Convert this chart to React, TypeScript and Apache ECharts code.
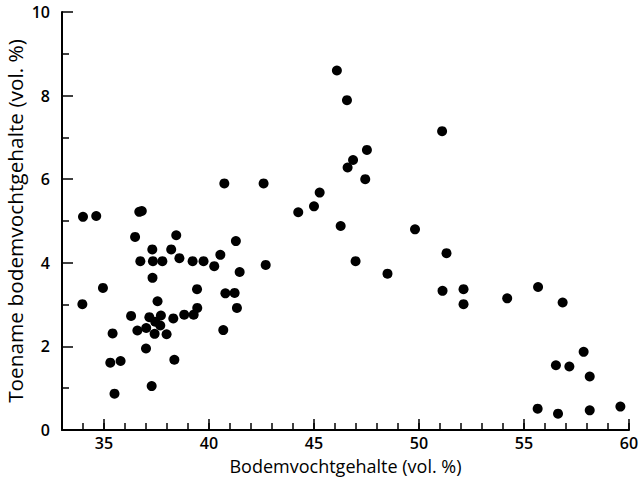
import React, { useEffect, useRef } from "react";
import * as echarts from "echarts";

const xValues: number[] = [
  34.0, 34.63, 36.68, 36.8, 36.48, 38.44, 37.3, 38.2, 36.73, 37.33, 37.78, 38.59,
  39.22, 39.74, 40.25, 40.54, 41.28, 41.46, 42.7, 40.73, 42.6, 37.31, 34.95, 33.97,
  39.43, 37.55, 40.78, 41.22, 41.33, 39.44, 39.27, 38.82, 38.3, 37.71, 37.16, 36.29,
  37.44, 37.68, 37.01, 36.59, 37.41, 37.98, 35.41, 40.68, 37.0, 35.3, 35.79, 38.35,
  37.27, 35.5,
  46.09, 46.57, 51.1, 47.52, 46.86, 46.6, 47.44, 45.27, 45.0, 44.25, 46.27, 49.81,
  51.31, 46.98, 48.5, 51.12, 52.12, 52.12, 54.2, 55.67, 56.84, 57.84, 56.52, 57.16,
  58.13, 55.65, 56.62, 58.13, 59.59,
];
const yValues: number[] = [
  5.1, 5.12, 5.22, 5.24, 4.62, 4.66, 4.32, 4.32, 4.04, 4.04, 4.04, 4.11,
  4.04, 4.04, 3.92, 4.19, 4.52, 3.78, 3.95, 5.9, 5.9, 3.64, 3.4, 3.01,
  3.37, 3.08, 3.27, 3.28, 2.92, 2.92, 2.76, 2.76, 2.67, 2.74, 2.7, 2.73,
  2.59, 2.5, 2.44, 2.38, 2.3, 2.29, 2.31, 2.39, 1.95, 1.61, 1.65, 1.68,
  1.05, 0.87,
  8.6, 7.89, 7.15, 6.7, 6.46, 6.28, 6.0, 5.68, 5.35, 5.21, 4.88, 4.8,
  4.23, 4.04, 3.74, 3.33, 3.37, 3.01, 3.15, 3.42, 3.05, 1.87, 1.55, 1.52,
  1.28, 0.51, 0.39, 0.47, 0.56,
];
const xMajorTicks: number[] = [35, 40, 45, 50, 55, 60];
const xTitle = "Bodemvochtgehalte (vol. %)";
const yTitle = "Toename bodemvochtgehalte (vol. %)";

const FONT = "'Open Sans', 'DejaVu Sans', sans-serif";

export default function App() {
  const ref = useRef<HTMLDivElement>(null);
  useEffect(() => {
    document.body.style.margin = "0";
    if (!ref.current) return;
    const chart = echarts.init(ref.current, null, { renderer: "svg" });
    const points = xValues.map((x, i) => [x, yValues[i]]);
    chart.setOption({
      animation: false,
      backgroundColor: "#ffffff",
      grid: {
        left: 62,
        right: 13,
        top: 12,
        bottom: 60,
        containLabel: false,
        outerBoundsMode: "none",
      },
      xAxis: [
        {
          type: "value",
          min: 33,
          max: 60,
          interval: 1,
          position: "bottom",
          axisLine: { show: true, onZero: false, lineStyle: { color: "#000", width: 2 } },
          axisTick: { show: true, inside: true, length: 7, lineStyle: { color: "#000", width: 1.5 } },
          axisLabel: { show: false },
          splitLine: { show: false },
        },
        {
          type: "value",
          min: 33,
          max: 60,
          position: "bottom",
          name: xTitle,
          nameLocation: "middle",
          nameGap: 27,
          nameMoveOverlap: false,
          nameTextStyle: { fontFamily: FONT, fontSize: 18, fontWeight: 500, color: "#000" },
          axisLine: { show: false },
          axisTick: {
            show: true,
            inside: true,
            length: 11,
            customValues: xMajorTicks,
            lineStyle: { color: "#000", width: 1.5 },
          },
          axisLabel: {
            show: true,
            customValues: xMajorTicks,
            margin: 5,
            fontFamily: FONT,
            fontSize: 16,
            fontWeight: 600,
            color: "#000",
          },
          splitLine: { show: false },
        },
      ],
      yAxis: {
        type: "value",
        min: 0,
        max: 10,
        interval: 2,
        name: yTitle,
        nameLocation: "middle",
        nameGap: 37,
        nameMoveOverlap: false,
        nameTextStyle: { fontFamily: FONT, fontSize: 20.8, fontWeight: 500, color: "#000" },
        axisLine: { show: true, onZero: false, lineStyle: { color: "#000", width: 2 } },
        axisTick: { show: true, inside: true, length: 11, lineStyle: { color: "#000", width: 1.5 } },
        minorTick: { show: true, splitNumber: 2, length: 7, lineStyle: { color: "#000", width: 1.5 } },
        axisLabel: { margin: 12, fontFamily: FONT, fontSize: 16, fontWeight: 600, color: "#000" },
        splitLine: { show: false },
      },
      series: [
        {
          type: "scatter",
          xAxisIndex: 0,
          data: points,
          symbol: "circle",
          symbolSize: 10,
          itemStyle: { color: "#000", opacity: 1 },
        },
      ],
    });
    return () => chart.dispose();
  }, []);
  return <div ref={ref} style={{ width: 642, height: 490 }} />;
}
